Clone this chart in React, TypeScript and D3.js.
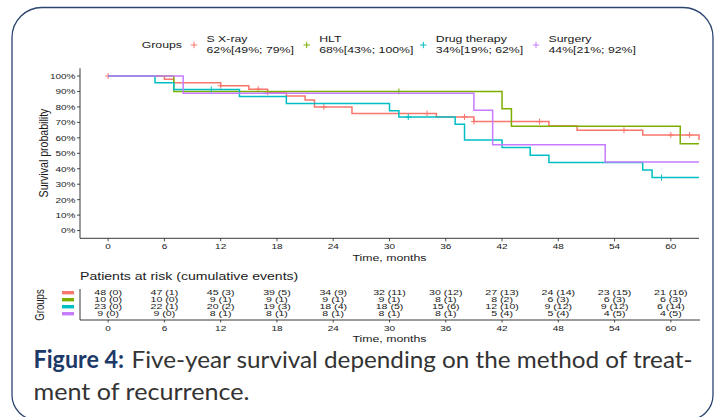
import React from 'react';
import * as d3 from 'd3';

// groups and legend
const groups = ['S X-ray', 'HLT', 'Drug therapy', 'Surgery'];
const groupColors = ['#F8766D', '#7CAE00', '#00BFC4', '#C77CFF'];
const legendStats = ['62%[49%; 79%]', '68%[43%; 100%]', '34%[19%; 62%]', '44%[21%; 92%]'];

// Kaplan-Meier steps (months, survival after the step)
const sxrayTimes = [0, 6, 7, 12, 15, 17, 19, 21, 22, 26, 35, 39, 47, 50, 57, 63];
const sxraySurv = [1, 0.979, 0.957, 0.937, 0.915, 0.895, 0.871, 0.845, 0.8, 0.757, 0.735, 0.705, 0.677, 0.649, 0.619, 0.586];
const sxrayCensor = [0, 12, 16, 17, 23, 34, 38, 39, 46, 55, 60, 62];

const hltTimes = [0, 7, 42, 43, 61];
const hltSurv = [1, 0.9, 0.7875, 0.675, 0.5625];
const hltCensor = [31];

const drugTimes = [0, 5, 7, 14, 19, 30, 31, 37, 38, 42, 45, 47, 57, 58];
const drugSurv = [1, 0.957, 0.913, 0.867, 0.822, 0.776, 0.735, 0.688, 0.586, 0.537, 0.488, 0.44, 0.392, 0.343];
const drugCensor = [11, 32, 59];

const surgeryTimes = [0, 8, 39, 41, 53];
const surgerySurv = [1, 0.889, 0.778, 0.556, 0.444];
const surgeryCensor: number[] = [];

// risk table
const timeTicks = [0, 6, 12, 18, 24, 30, 36, 42, 48, 54, 60];
const sxrayRisk = ['48 (0)', '47 (1)', '45 (3)', '39 (5)', '34 (9)', '32 (11)', '30 (12)', '27 (13)', '24 (14)', '23 (15)', '21 (16)'];
const hltRisk = ['10 (0)', '10 (0)', '9 (1)', '9 (1)', '9 (1)', '9 (1)', '8 (1)', '8 (2)', '6 (3)', '6 (3)', '6 (3)'];
const drugRisk = ['23 (0)', '22 (1)', '20 (2)', '19 (3)', '18 (4)', '18 (5)', '15 (6)', '12 (10)', '9 (12)', '9 (12)', '6 (14)'];
const surgeryRisk = ['9 (0)', '9 (0)', '8 (1)', '8 (1)', '8 (1)', '8 (1)', '8 (1)', '5 (4)', '5 (4)', '4 (5)', '4 (5)'];

const yTicks = [0, 0.1, 0.2, 0.3, 0.4, 0.5, 0.6, 0.7, 0.8, 0.9, 1];

const curves = [
  { times: sxrayTimes, surv: sxraySurv, censor: sxrayCensor },
  { times: hltTimes, surv: hltSurv, censor: hltCensor },
  { times: drugTimes, surv: drugSurv, censor: drugCensor },
  { times: surgeryTimes, surv: surgerySurv, censor: surgeryCensor },
];
const riskRows = [sxrayRisk, hltRisk, drugRisk, surgeryRisk];

const W = 719;
const H = 417;
const END = 63;
const SQ = 0.78; // the chart image is squashed vertically
const FONT = '"Liberation Sans", Arial, sans-serif';
const CAPTION_FONT = 'Lato, "Open Sans", sans-serif';
const legendX = [194, 306.7, 423.3, 536];

const x = d3.scaleLinear().domain([-3, 63]).range([80, 699]);
const y = d3.scaleLinear().domain([-0.05, 1.05]).range([238.3, 68.3]);
const rowY = d3.scalePoint<string>().domain(groups).range([292.6, 313.6]);

const T = ({ x, y, size, anchor = 'start', rotate = false, sq = SQ, children, ...rest }: any) => (
  <text
    transform={rotate
      ? `translate(${x},${y}) rotate(-90) scale(${sq},1)`
      : `translate(${x},${y}) scale(1,${sq})`}
    fontSize={size}
    fontFamily={FONT}
    textAnchor={anchor}
    fill="#1a1a1a"
    {...rest}
  >
    {children}
  </text>
);

const survAt = (c: { times: number[]; surv: number[] }, t: number) => {
  const i = d3.bisectRight(c.times, t) - 1;
  return c.surv[Math.max(0, i)];
};

const Plus = ({ cx, cy, color, r = 3 }: any) => (
  <path d={`M${cx - r},${cy}H${cx + r}M${cx},${cy - r}V${cy + r}`} stroke={color} strokeWidth={1} />
);

export default function App() {
  const line = d3
    .line<[number, number]>()
    .x((d) => x(d[0]))
    .y((d) => y(d[1]))
    .curve(d3.curveStepAfter);

  return (
    <svg width={W} height={H} style={{ position: 'absolute', left: 0, top: 0, background: '#fff' }}>
      {/* frame */}
      <path
        d="M42,7.5H683A30,30 0 0 1 713,37.5V395A25,25 0 0 1 688,420H37A25,25 0 0 1 12,395V37.5A30,30 0 0 1 42,7.5Z"
        fill="none"
        stroke="#2c4670"
        strokeWidth={1.3}
      />

      {/* legend */}
      <T x={141.7} y={47.5} size={12.3}>Groups</T>
      {groups.map((g, i) => (
        <g key={g}>
          <Plus cx={legendX[i]} cy={45} color={groupColors[i]} r={3.2} />
          <T x={legendX[i] + 12.5} y={42} size={12.3}>{g}</T>
          <T x={legendX[i] + 12.5} y={53} size={12.3}>{legendStats[i]}</T>
        </g>
      ))}

      {/* axes */}
      <line x1={80} x2={80} y1={68.3} y2={238.3} stroke="#222" strokeWidth={0.9} />
      <line x1={80} x2={699} y1={238.3} y2={238.3} stroke="#222" strokeWidth={0.9} />
      {yTicks.map((v) => (
        <g key={v}>
          <line x1={77} x2={80} y1={y(v)} y2={y(v)} stroke="#222" strokeWidth={0.8} />
          <T x={75.5} y={y(v) + 2.9} size={10} anchor="end">{d3.format('.0%')(v)}</T>
        </g>
      ))}
      {timeTicks.map((t) => (
        <g key={t}>
          <line x1={x(t)} x2={x(t)} y1={238.3} y2={241.3} stroke="#222" strokeWidth={0.8} />
          <T x={x(t)} y={248.6} size={10} anchor="middle">{t}</T>
        </g>
      ))}
      <T x={389.5} y={260.5} size={12.3} anchor="middle">Time, months</T>
      <T x={48} y={153} size={12.3} anchor="middle" rotate sq={0.86}>Survival probability</T>

      {/* curves */}
      {curves.map((c, i) => {
        const pts: [number, number][] = c.times.map((t, k) => [t, c.surv[k]]);
        if (c.times[c.times.length - 1] < END) pts.push([END, c.surv[c.surv.length - 1]]);
        return (
          <g key={groups[i]}>
            <path d={line(pts) || ''} fill="none" stroke={groupColors[i]} strokeWidth={1.5} />
            {c.censor.map((t) => (
              <Plus key={t} cx={x(t)} cy={y(survAt(c, t))} color={groupColors[i]} />
            ))}
          </g>
        );
      })}

      {/* risk table */}
      <T x={80} y={280} size={14.1}>Patients at risk (cumulative events)</T>
      <T x={44} y={305} size={12.3} anchor="middle" rotate>Groups</T>
      {groups.map((g, i) => (
        <rect key={g} x={62} y={(rowY(g) as number) - 1.6} width={12} height={3.4} fill={groupColors[i]} />
      ))}
      <line x1={80} x2={80} y1={289} y2={320} stroke="#222" strokeWidth={0.9} />
      <line x1={80} x2={700} y1={320} y2={320} stroke="#222" strokeWidth={0.9} />
      {riskRows.map((row, i) =>
        row.map((s, k) => (
          <T key={`${i}-${k}`} x={x(timeTicks[k])} y={(rowY(groups[i]) as number) + 2.8} size={10.6} anchor="middle" sq={0.72}>
            {s}
          </T>
        ))
      )}
      {timeTicks.map((t) => (
        <g key={`b${t}`}>
          <line x1={x(t)} x2={x(t)} y1={320} y2={322.5} stroke="#222" strokeWidth={0.8} />
          <T x={x(t)} y={331} size={10} anchor="middle">{t}</T>
        </g>
      ))}
      <T x={389.5} y={341.5} size={12.3} anchor="middle">Time, months</T>

      {/* caption */}
      <text x={33.5} y={368} fontFamily={CAPTION_FONT} fontSize={24} fontWeight="bold" fill="#1d3967"
        textLength={90.5} lengthAdjust="spacingAndGlyphs">
        Figure 4:
      </text>
      <text x={131.5} y={368} fontFamily={CAPTION_FONT} fontSize={24} fill="#333"
        textLength={561} lengthAdjust="spacingAndGlyphs">
        Five-year survival depending on the method of treat-
      </text>
      <text x={33.5} y={400} fontFamily={CAPTION_FONT} fontSize={24} fill="#333"
        textLength={216} lengthAdjust="spacingAndGlyphs">
        ment of recurrence.
      </text>
    </svg>
  );
}
